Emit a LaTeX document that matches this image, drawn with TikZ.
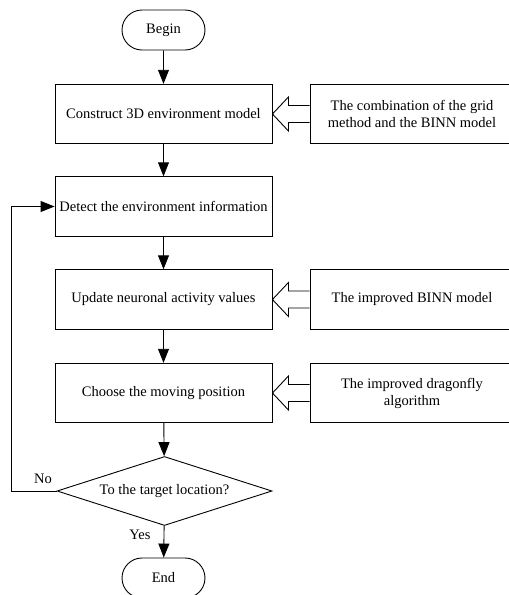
\documentclass[tikz,border=0pt]{standalone}
\usepackage{fontspec}
\setmainfont{Liberation Serif}
\usetikzlibrary{arrows.meta,shapes.geometric,shapes.misc}
\begin{document}
\begin{tikzpicture}[x=1pt,y=-1pt,
  every node/.style={font=\fontsize{14.5}{17}\selectfont},
  box/.style={draw,line width=0.9pt,minimum width=217pt,minimum height=59.5pt,inner sep=0pt,align=center},
  sidebox/.style={draw,line width=0.9pt,minimum width=204pt,minimum height=59.5pt,inner sep=0pt,align=center},
  term/.style={draw,line width=0.9pt,rounded rectangle,minimum width=83pt,minimum height=40pt,inner sep=0pt},
  decision/.style={draw,line width=0.9pt,diamond,aspect=3.1,minimum width=215pt,minimum height=69pt,inner sep=0pt},
  arr/.style={draw,line width=0.9pt,-{Triangle[length=14pt,width=11pt]}},
  blockarrow/.style={draw,line width=0.9pt,line join=miter},
  lbl/.style={inner sep=0pt}]
\useasboundingbox (0,0) rectangle (509,595);
\clip (0,0) rectangle (509,595);
\node[term] (begin) at (163.5,30) {Begin};
\node[box] (b1) at (163.5,114) {Construct 3D environment model};
\node[box] (b2) at (163.5,206.5) {Detect the environment information};
\node[box] (b3) at (163.5,299.5) {Update neuronal activity values};
\node[box] (b4) at (163.5,393) {Choose the moving position};
\node[decision] (d) at (164.5,491) {To the target location?};
\node[term] (end) at (163.5,578) {End};
\node[sidebox] (r1) at (412,114) {The combination of the grid\\method and the BINN model};
\node[sidebox] (r3) at (412,299.5) {The improved BINN model};
\node[sidebox] (r4) at (412,393) {The improved dragonfly\\algorithm};
\draw[arr] (begin) -- (b1);
\draw[arr] (b1) -- (b2);
\draw[arr] (b2) -- (b3);
\draw[arr] (b3) -- (b4);
\draw[arr] (b4) -- (d);
\draw[arr] (d) -- (end);
\coordinate (loop) at (11,491);
\draw[arr] (d.west) -- (loop) |- (b2.west);
\node[lbl] (no) at (43,479) {No};
\node[lbl] (yes) at (140,535) {Yes};
\foreach \r/\b in {r1/b1,r3/b3,r4/b4}{
  \draw[blockarrow] ([yshift=8.5pt]\r.west) -- ([xshift=16pt,yshift=8.5pt]\b.east) -- ([xshift=16pt,yshift=17pt]\b.east) -- (\b.east) -- ([xshift=16pt,yshift=-17pt]\b.east) -- ([xshift=16pt,yshift=-8.5pt]\b.east) -- ([yshift=-8.5pt]\r.west);
}
\end{tikzpicture}
\end{document}
